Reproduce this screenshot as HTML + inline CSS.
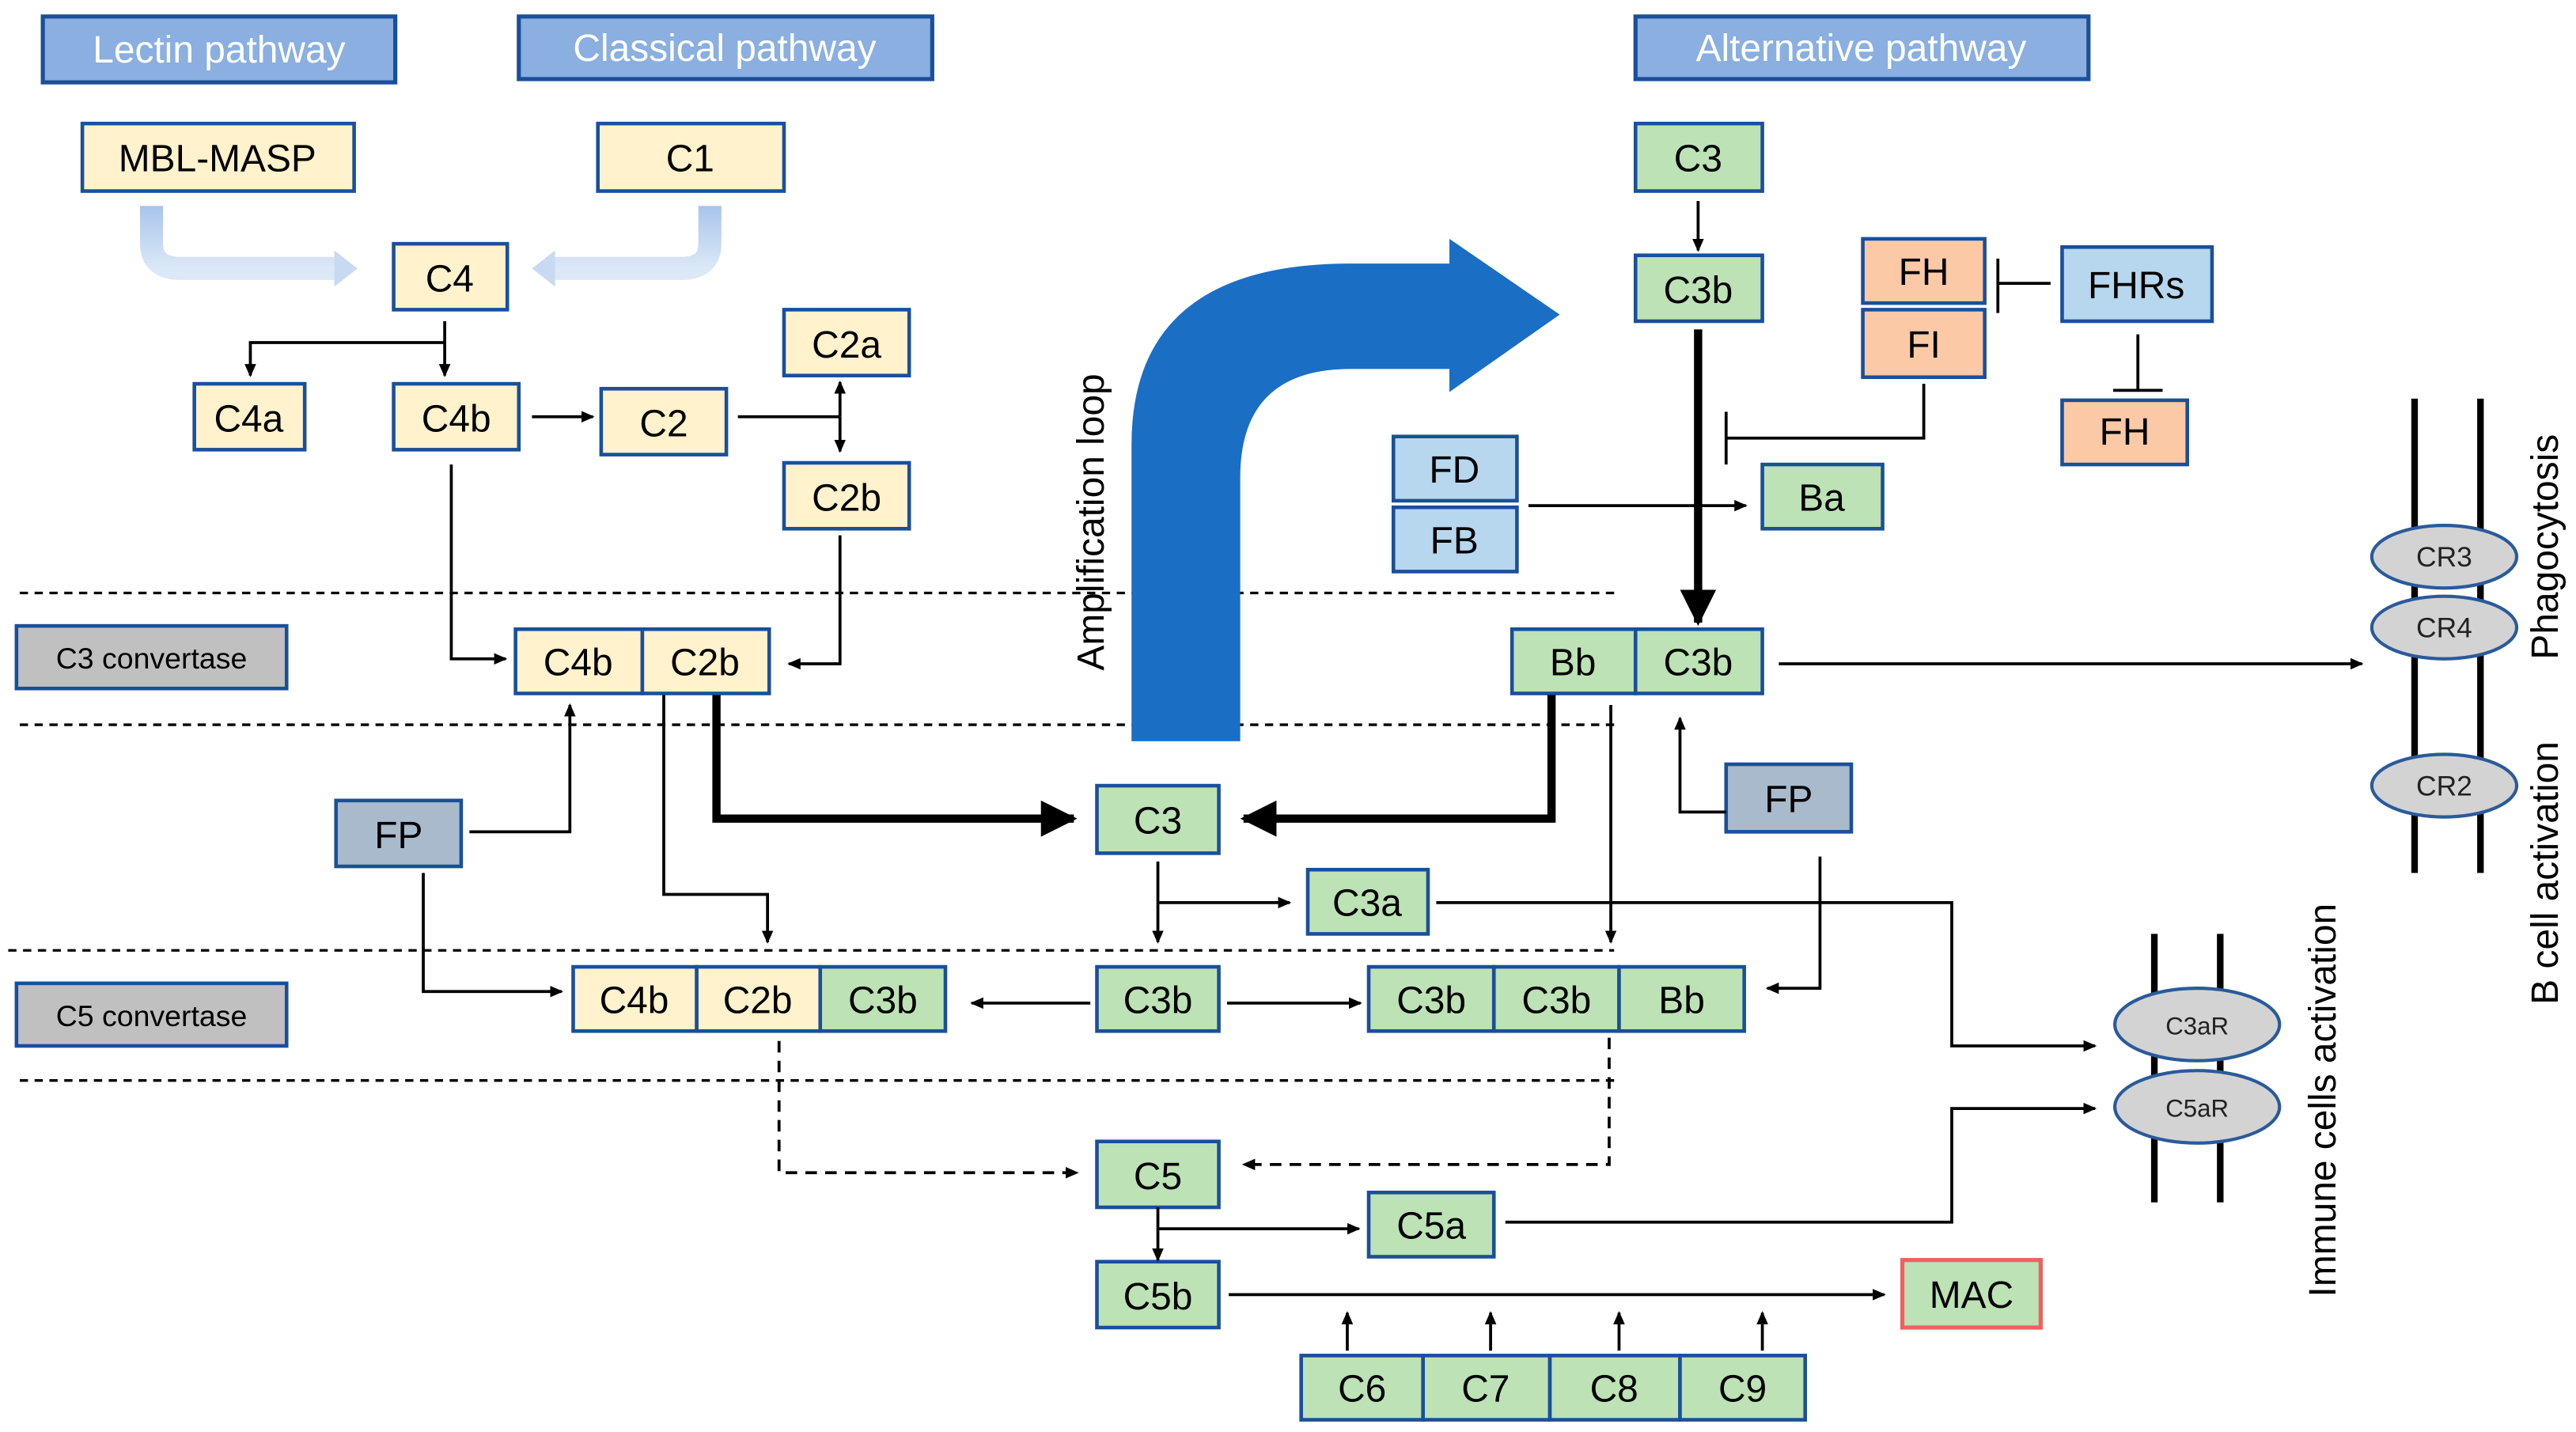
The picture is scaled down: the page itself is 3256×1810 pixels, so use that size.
<!DOCTYPE html>
<html><head><meta charset="utf-8"><style>
html,body{margin:0;padding:0;background:#fff}
svg{display:block}
text{font-family:"Liberation Sans",sans-serif}
</style></head><body>
<svg width="3256" height="1810" viewBox="0 0 1564 869.4" xmlns="http://www.w3.org/2000/svg">
<defs>
<marker id="a" markerWidth="8" markerHeight="8" refX="7" refY="4" orient="auto" markerUnits="userSpaceOnUse"><path d="M0,0.5 L8,4 L0,7.5z" fill="#000"/></marker>
<marker id="ab" markerWidth="22" markerHeight="22" refX="20" refY="11" orient="auto" markerUnits="userSpaceOnUse"><path d="M0,0 L22,11 L0,22z" fill="#000"/></marker>
<linearGradient id="lg" x1="0" y1="0" x2="0" y2="1"><stop offset="0" stop-color="#a8c4ea"/><stop offset="1" stop-color="#dce8f7"/></linearGradient>
</defs>
<g stroke="#000" stroke-width="1.6" stroke-dasharray="5,4" fill="none">
<line x1="12" y1="360" x2="980" y2="360"/>
<line x1="12" y1="440" x2="980" y2="440"/>
<line x1="5" y1="577" x2="980" y2="577"/>
<line x1="12" y1="656" x2="980" y2="656"/>
</g>
<!-- light arrows -->
<path d="M92,125 V148 Q92,163 110,163 H205" stroke="url(#lg)" stroke-width="14" fill="none"/>
<path d="M203,152 L217,163 L203,174z" fill="#c8daf2"/>
<path d="M431,125 V148 Q431,163 413,163 H335" stroke="url(#lg)" stroke-width="14" fill="none"/>
<path d="M337,152 L323,163 L337,174z" fill="#c8daf2"/>
<!-- big blue arrow -->
<path d="M687,450 V270 Q687,160 820,160 H880 V145 L947,191 L880,238 V224 H820 Q753,224 753,290 V450z" fill="#1a6ec4"/>
<text transform="translate(670,317) rotate(-90)" text-anchor="middle" font-size="23" fill="#000">Amplification loop</text>
<!-- header boxes -->
<g stroke="#1a4f9a" stroke-width="2.5">
<rect x="26" y="10" width="214" height="40" fill="#8aafe0"/>
<rect x="315" y="10" width="251" height="38" fill="#8aafe0"/>
<rect x="993" y="10" width="275" height="38" fill="#8aafe0"/>
</g>
<g font-size="23" fill="#fff" text-anchor="middle">
<text x="133" y="38">Lectin pathway</text>
<text x="440" y="37">Classical pathway</text>
<text x="1130" y="37">Alternative pathway</text>
</g>
<!-- boxes -->
<g stroke="#1a4f9a" stroke-width="2.2">
<g fill="#fff2cc">
<rect x="50" y="75" width="165" height="41"/><rect x="363" y="75" width="113" height="41"/>
<rect x="239" y="148" width="69" height="40"/><rect x="118" y="233" width="67" height="40"/>
<rect x="239" y="233" width="76" height="40"/><rect x="365" y="236" width="76" height="40"/>
<rect x="476" y="188" width="76" height="40"/><rect x="476" y="281" width="76" height="40"/>
<rect x="313" y="382" width="77" height="39"/><rect x="390" y="382" width="77" height="39"/>
<rect x="348" y="587" width="75" height="39"/><rect x="423" y="587" width="75" height="39"/>
</g>
<g fill="#bde2b5">
<rect x="993" y="75" width="77" height="41"/><rect x="993" y="155" width="77" height="40"/>
<rect x="1070" y="282" width="73" height="39"/>
<rect x="918" y="382" width="75" height="39"/><rect x="993" y="382" width="77" height="39"/>
<rect x="666" y="477" width="74" height="41"/><rect x="794" y="528" width="73" height="39"/>
<rect x="498" y="587" width="76" height="39"/><rect x="666" y="587" width="74" height="39"/>
<rect x="831" y="587" width="76" height="39"/><rect x="907" y="587" width="76" height="39"/><rect x="983" y="587" width="76" height="39"/>
<rect x="666" y="693" width="74" height="40"/><rect x="831" y="724" width="76" height="39"/>
<rect x="666" y="766" width="74" height="40"/>
<rect x="790" y="823" width="74" height="39"/><rect x="864" y="823" width="77" height="39"/><rect x="941" y="823" width="79" height="39"/><rect x="1020" y="823" width="76" height="39"/>
</g>
<rect x="1155" y="765" width="84" height="41" fill="#bde2b5" stroke="#f06060" stroke-width="2.5"/>
<g fill="#fcc9a7"><rect x="1131" y="145" width="74" height="39"/><rect x="1131" y="188" width="74" height="41"/><rect x="1252" y="243" width="76" height="39"/></g>
<g fill="#b7d7ef"><rect x="1252" y="150" width="91" height="45"/><rect x="846" y="265" width="75" height="39"/><rect x="846" y="308" width="75" height="39"/></g>
<g fill="#a9bacd"><rect x="204" y="486" width="76" height="40"/><rect x="1048" y="464" width="76" height="41"/></g>
<g fill="#c0c0c0"><rect x="10" y="380" width="164" height="38"/><rect x="10" y="597" width="164" height="38"/></g>
</g>
<g font-size="23" fill="#000" text-anchor="middle">
<text x="132" y="104">MBL-MASP</text><text x="419" y="104">C1</text>
<text x="273" y="177">C4</text><text x="151" y="262">C4a</text><text x="277" y="262">C4b</text>
<text x="403" y="265">C2</text><text x="514" y="217">C2a</text><text x="514" y="310">C2b</text>
<text x="351" y="410">C4b</text><text x="428" y="410">C2b</text>
<text x="385" y="615">C4b</text><text x="460" y="615">C2b</text><text x="536" y="615">C3b</text>
<text x="1031" y="104">C3</text><text x="1031" y="184">C3b</text><text x="1106" y="310">Ba</text>
<text x="955" y="410">Bb</text><text x="1031" y="410">C3b</text>
<text x="703" y="506">C3</text><text x="830" y="556">C3a</text>
<text x="703" y="615">C3b</text><text x="869" y="615">C3b</text><text x="945" y="615">C3b</text><text x="1021" y="615">Bb</text>
<text x="703" y="722">C5</text><text x="869" y="752">C5a</text><text x="703" y="795">C5b</text>
<text x="827" y="851">C6</text><text x="902" y="851">C7</text><text x="980" y="851">C8</text><text x="1058" y="851">C9</text>
<text x="1197" y="794">MAC</text>
<text x="1168" y="173">FH</text><text x="1168" y="217">FI</text><text x="1290" y="270">FH</text>
<text x="1297" y="181">FHRs</text><text x="883" y="293">FD</text><text x="883" y="336">FB</text>
<text x="242" y="515">FP</text><text x="1086" y="493">FP</text>
</g>
<g font-size="18" fill="#000" text-anchor="middle"><text x="92" y="406">C3 convertase</text><text x="92" y="623">C5 convertase</text></g>
<!-- connectors -->
<g stroke="#000" stroke-width="1.8" fill="none" marker-end="url(#a)">
<path d="M270,195 V228"/><path d="M270,208 H152 V228"/>
<path d="M323,253 H360"/>
<path d="M510,253 V232"/><path d="M510,253 V274"/><path d="M448,253 H510" marker-end="none"/>
<path d="M274,282 V400 H307"/><path d="M510,325 V403 H479"/>
<path d="M1031,122 V152"/><path d="M928,307 H1060"/><path d="M1080,403 H1434"/>
<path d="M285,505 H346 V428"/><path d="M257,530 V602 H341"/>
<path d="M403,422 V543 H466 V572"/>
<path d="M703,523 V572"/><path d="M703,548 H783"/>
<path d="M872,548 H1185 V635 H1272"/>
<path d="M978,428 V572"/>
<path d="M1048,493 H1020 V436"/><path d="M1105,520 V600 H1073"/>
<path d="M662,609 H590"/><path d="M745,609 H826"/>
<path d="M703,733 V765"/><path d="M703,746 H825"/>
<path d="M914,742 H1185 V673 H1272"/>
<path d="M746,786 H1144"/>
<path d="M818,820 V797"/><path d="M905,820 V797"/><path d="M983,820 V797"/><path d="M1070,820 V797"/>
<path d="M473,632 V712 H654" stroke-dasharray="7,5"/><path d="M977,630 V707 H755" stroke-dasharray="7,5"/>
</g>
<g stroke="#000" stroke-width="5" fill="none" marker-end="url(#ab)">
<path d="M1031,200 V378"/><path d="M435,422 V497 H652"/><path d="M942,422 V497 H755"/>
</g>
<!-- inhibitors -->
<g stroke="#000" stroke-width="1.8" fill="none">
<path d="M1245,172 H1213 M1213,157 V190"/>
<path d="M1298,203 V237 M1283,237 H1313"/>
<path d="M1168,233 V266 H1048 M1048,250 V282"/>
</g>
<!-- membranes -->
<g stroke="#000" stroke-width="4">
<line x1="1466" y1="242" x2="1466" y2="530"/><line x1="1506" y1="242" x2="1506" y2="530"/>
<line x1="1308" y1="567" x2="1308" y2="730"/><line x1="1348" y1="567" x2="1348" y2="730"/>
</g>
<g fill="#d3d3d3" stroke="#2a5a9a" stroke-width="2">
<ellipse cx="1484" cy="338" rx="44" ry="19"/><ellipse cx="1484" cy="381" rx="44" ry="19"/><ellipse cx="1484" cy="477" rx="44" ry="19"/>
<ellipse cx="1334" cy="622" rx="50" ry="22"/><ellipse cx="1334" cy="672" rx="50" ry="22"/>
</g>
<g font-size="17" fill="#222" text-anchor="middle">
<text x="1484" y="344">CR3</text><text x="1484" y="387">CR4</text><text x="1484" y="483">CR2</text>
<text x="1334" y="628" font-size="15">C3aR</text><text x="1334" y="678" font-size="15">C5aR</text>
</g>
<g font-size="23" fill="#000" text-anchor="middle">
<text transform="translate(1553,332) rotate(-90)">Phagocytosis</text>
<text transform="translate(1553,530) rotate(-90)">B cell activation</text>
<text transform="translate(1418,668) rotate(-90)">Immune cells activation</text>
</g>
</svg>
</body></html>
